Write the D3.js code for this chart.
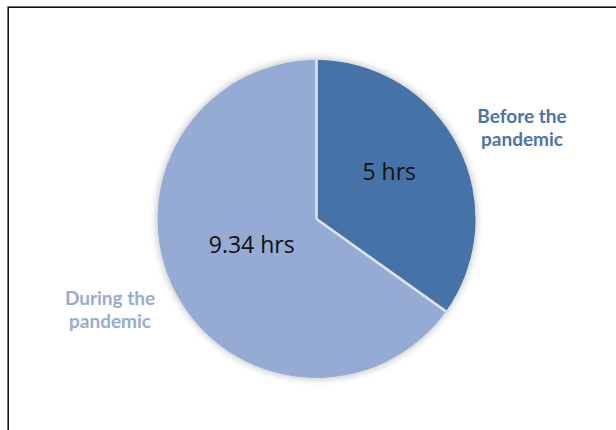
<!DOCTYPE html>
<html>
<head>
<meta charset="utf-8">
<script src="https://cdn.jsdelivr.net/npm/d3@7"></script>
<style>
  html, body { margin: 0; padding: 0; background: #fff; }
  svg { display: block; }
</style>
</head>
<body>
<svg id="chart" width="616" height="430"></svg>
<script>
// Average daily hours, before and during the pandemic
const categories = ["Before the pandemic", "During the pandemic"];
const hours = [5, 9.34];
const valueLabels = ["5 hrs", "9.34 hrs"];
const nameLines = [["Before the", "pandemic"], ["During the", "pandemic"]];
const colors = ["#4572a7", "#95abd3"];
const nameColors = ["#4a74a9", "#95acd3"];

const svg = d3.select("#chart");
const cx = 316.5, cy = 219, r = 159;

// outer frame
svg.append("rect")
  .attr("x", 8.2).attr("y", 7.2)
  .attr("width", 700).attr("height", 500)
  .attr("fill", "none")
  .attr("stroke", "#111")
  .attr("stroke-width", 1.6);

// soft shadow around the pie
const defs = svg.append("defs");
const f = defs.append("filter").attr("id", "soft")
  .attr("x", "-20%").attr("y", "-20%").attr("width", "140%").attr("height", "140%");
f.append("feGaussianBlur").attr("in", "SourceAlpha").attr("stdDeviation", 4).attr("result", "b");
f.append("feComponentTransfer").attr("in", "b").attr("result", "s")
  .append("feFuncA").attr("type", "linear").attr("slope", 0.3);
const m = f.append("feMerge");
m.append("feMergeNode").attr("in", "s");
m.append("feMergeNode").attr("in", "SourceGraphic");

const data = categories.map((c, i) => ({ name: c, value: hours[i], i }));
const pie = d3.pie().sort(null).value(d => d.value);
const arcs = pie(data);
const arc = d3.arc().innerRadius(0).outerRadius(r);

const g = svg.append("g").attr("transform", `translate(${cx},${cy})`);
const pg = g.append("g").attr("filter", "url(#soft)");
pg.selectAll("path").data(arcs).join("path")
  .attr("d", arc)
  .attr("fill", d => colors[d.data.i]);

// light separators along the slice boundaries
const sep = pg.append("g");
arcs.forEach(d => {
  const a = d.startAngle;
  sep.append("line")
    .attr("x1", 0).attr("y1", 0)
    .attr("x2", r * Math.sin(a)).attr("y2", -r * Math.cos(a))
    .attr("stroke", "#dfe4ec")
    .attr("stroke-width", 2.6)
    .attr("stroke-linecap", "butt");
});

// value labels inside slices (centroid plus a small nudge)
const inner = d3.arc().innerRadius(r * 0.55).outerRadius(r * 0.55);
const nudge = [[-5, -7], [13, -14]];
g.selectAll("text.val").data(arcs).join("text")
  .attr("class", "val")
  .attr("transform", d => {
    const [x, y] = inner.centroid(d);
    const [nx, ny] = nudge[d.data.i];
    return `translate(${x + nx},${y + ny})`;
  })
  .attr("text-anchor", "middle")
  .attr("dy", "0.35em")
  .attr("font-family", "'Open Sans', sans-serif")
  .attr("font-size", 23)
  .attr("fill", "#111")
  .text(d => valueLabels[d.data.i]);

// category labels beside the pie
arcs.forEach(d => {
  const mid = (d.startAngle + d.endAngle) / 2;
  const right = Math.sin(mid) >= 0;
  const x = right ? 205.5 : -206.5;
  const y = right ? -96 : 86;
  const t = g.append("text")
    .attr("text-anchor", "middle")
    .attr("font-family", "Lato, 'Open Sans', sans-serif")
    .attr("font-weight", "bold")
    .attr("font-size", 19)
    .attr("fill", nameColors[d.data.i]);
  nameLines[d.data.i].forEach((ln, k) => {
    t.append("tspan").attr("x", x).attr("y", y + k * 22.5).text(ln);
  });
});
</script>
</body>
</html>
